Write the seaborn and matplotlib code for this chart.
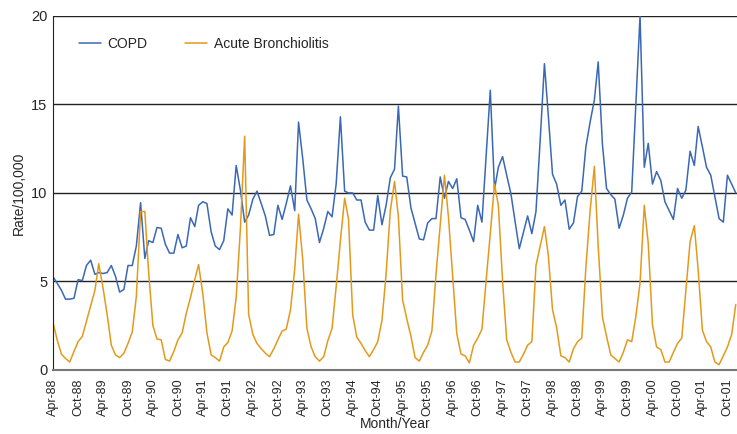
import numpy as np
import pandas as pd
import matplotlib
matplotlib.use('Agg')
from matplotlib import pyplot as plt
import matplotlib.dates as mdates
import seaborn as sns

# monthly rates per 100,000, Apr-88 .. Dec-01
copd = [5.26, 4.9, 4.5, 4.0, 4.0, 4.05, 5.1, 5.05, 5.9, 6.2, 5.4, 5.5,
        5.45, 5.5, 5.9, 5.3, 4.4, 4.55, 5.9, 5.9, 7.0, 9.45, 6.3, 7.3,
        7.2, 8.05, 8.0, 7.1, 6.6, 6.6, 7.65, 6.9, 7.0, 8.6, 8.1, 9.3,
        9.5, 9.4, 7.8, 7.0, 6.8, 7.3, 9.1, 8.75, 11.55, 10.15, 8.35, 8.75,
        9.65, 10.1, 9.4, 8.7, 7.6, 7.65, 9.3, 8.5, 9.4, 10.4, 9.0, 14.0,
        11.9, 9.6, 9.1, 8.55, 7.2, 8.0, 8.95, 8.65, 10.5, 14.3, 10.1, 10.0,
        10.0, 9.6, 9.6, 8.35, 7.9, 7.9, 9.85, 8.2, 9.3, 10.85, 11.35, 14.9,
        10.95, 10.9, 9.15, 8.3, 7.4, 7.35, 8.3, 8.55, 8.55, 10.9, 9.7, 10.65,
        10.25, 10.8, 8.6, 8.5, 7.9, 7.25, 9.3, 8.35, 12.0, 15.8, 10.2, 11.45,
        12.05, 11.0, 9.95, 8.4, 6.85, 7.8, 8.7, 7.7, 8.95, 13.0, 17.3, 14.4,
        11.05, 10.5, 9.3, 9.6, 7.95, 8.3, 9.8, 10.1, 12.6, 14.0, 15.25, 17.4,
        12.75, 10.25, 9.9, 9.65, 8.0, 8.75, 9.7, 10.05, 15.0, 20.0, 11.45, 12.8,
        10.5, 11.2, 10.7, 9.5, 9.0, 8.5, 10.25, 9.7, 10.15, 12.35, 11.55, 13.75,
        12.6, 11.45, 11.0, 9.8, 8.55, 8.35, 11.0, 10.5, 10.0]

bronchiolitis = [2.67, 1.7, 0.9, 0.65, 0.45, 1.05, 1.6, 1.9, 2.75, 3.65, 4.5, 6.0,
                 4.65, 3.15, 1.4, 0.85, 0.7, 0.95, 1.5, 2.15, 4.15, 8.95, 8.95, 5.5,
                 2.5, 1.75, 1.7, 0.6, 0.5, 1.05, 1.7, 2.1, 3.2, 4.1, 5.1, 5.95,
                 4.3, 2.1, 0.85, 0.7, 0.5, 1.3, 1.55, 2.2, 4.1, 8.0, 13.2, 3.15,
                 2.0, 1.5, 1.2, 0.95, 0.75, 1.2, 1.7, 2.2, 2.3, 3.4, 5.7, 8.8,
                 6.2, 2.35, 1.3, 0.75, 0.5, 0.75, 1.65, 2.35, 4.7, 7.3, 9.7, 8.55,
                 3.1, 1.85, 1.5, 1.1, 0.75, 1.15, 1.6, 2.8, 5.4, 9.0, 10.65, 8.65,
                 3.95, 2.9, 1.9, 0.7, 0.5, 1.0, 1.4, 2.2, 5.4, 8.2, 11.0, 8.65,
                 5.3, 2.05, 0.9, 0.8, 0.4, 1.4, 1.8, 2.3, 5.0, 7.7, 10.5, 9.3,
                 5.0, 1.7, 1.0, 0.45, 0.45, 0.9, 1.4, 1.6, 5.9, 7.0, 8.1, 6.5,
                 3.4, 2.4, 0.8, 0.7, 0.45, 1.2, 1.6, 1.8, 5.8, 9.0, 11.5, 7.0,
                 3.0, 1.9, 0.85, 0.65, 0.45, 1.0, 1.7, 1.6, 3.0, 4.9, 9.3, 7.15,
                 2.55, 1.3, 1.15, 0.45, 0.45, 1.0, 1.5, 1.8, 4.5, 7.25, 8.15, 5.65,
                 2.25, 1.6, 1.3, 0.45, 0.3, 0.8, 1.3, 2.0, 3.7]

months = pd.date_range('1988-04-01', periods=len(copd), freq='MS')

df = pd.DataFrame({
    'month': np.concatenate([months, months]),
    'rate': copd + bronchiolitis,
    'series': ['COPD'] * len(copd) + ['Acute Bronchiolitis'] * len(bronchiolitis),
})

sns.set_style('white')
plt.rcParams['font.family'] = ['Liberation Sans', 'DejaVu Sans']

fig = plt.figure(figsize=(7.37, 4.34), dpi=100)
ax = fig.add_axes([0.072, 0.1475, 0.928, 0.816])

sns.lineplot(data=df, x='month', y='rate', hue='series',
             palette={'COPD': '#3a68b4', 'Acute Bronchiolitis': '#e39a1c'},
             linewidth=1.1, ax=ax)

ax.set_ylim(0, 20)
ax.set_yticks([0, 5, 10, 15, 20])
ax.set_xlim(pd.Timestamp('1988-04-01'), pd.Timestamp('2001-12-10'))
ax.xaxis.set_major_locator(mdates.MonthLocator(bymonth=[4, 10]))
ax.xaxis.set_major_formatter(mdates.DateFormatter('%b-%y'))
plt.setp(ax.get_xticklabels(), rotation=90)
ax.tick_params(axis='x', length=4, width=1, color='#555555', labelsize=9, pad=2)
ax.tick_params(axis='y', length=0, labelsize=10.5, pad=4)

ax.yaxis.grid(True, color='#222222', linewidth=1)
ax.xaxis.grid(False)
for s in ['top', 'right']:
    ax.spines[s].set_visible(False)
ax.spines['left'].set_color('#222222')
ax.spines['bottom'].set_color('#777777')
ax.spines['bottom'].set_linewidth(1.5)

ax.set_xlabel('Month/Year', fontsize=10, labelpad=1)
ax.set_ylabel('Rate/100,000', fontsize=10, labelpad=4)

handles, labels = ax.get_legend_handles_labels()
ax.legend(handles, labels, loc='upper left', ncol=2, frameon=False,
          fontsize=10, bbox_to_anchor=(0.02, 0.975), handlelength=1.6,
          handletextpad=0.45, columnspacing=2.7)

fig.savefig('out.png', dpi=100)
